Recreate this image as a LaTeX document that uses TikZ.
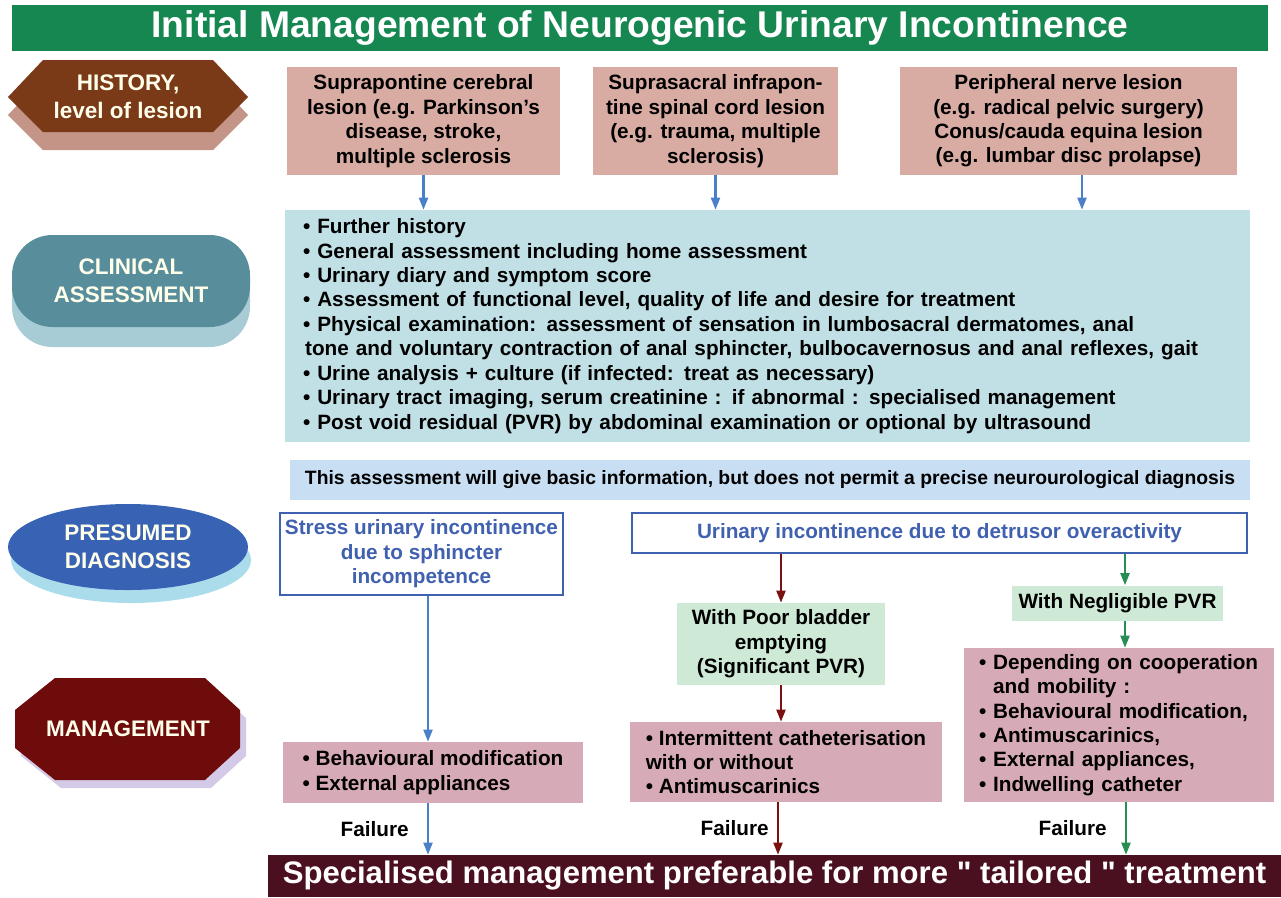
\documentclass[tikz,border=0pt]{standalone}
\usepackage{fontspec}
\setmainfont{Liberation Sans}
\usetikzlibrary{positioning,arrows.meta,shapes.geometric}

\definecolor{titlegreen}{RGB}{22,135,80}
\definecolor{lesionpink}{RGB}{217,172,163}
\definecolor{assessteal}{RGB}{193,224,230}
\definecolor{infoblue}{RGB}{200,222,242}
\definecolor{diagblue}{RGB}{64,96,176}
\definecolor{pvrgreen}{RGB}{206,234,214}
\definecolor{mgmtpink}{RGB}{214,170,182}
\definecolor{bottommaroon}{RGB}{75,16,32}
\definecolor{arrowblue}{RGB}{74,128,200}
\definecolor{arrowred}{RGB}{122,16,16}
\definecolor{arrowgreen}{RGB}{40,140,85}
\definecolor{histbrown}{RGB}{122,58,24}
\definecolor{histshadow}{RGB}{196,148,135}
\definecolor{clinteal}{RGB}{88,142,156}
\definecolor{clinshadow}{RGB}{168,204,214}
\definecolor{presblue}{RGB}{56,98,180}
\definecolor{presshadow}{RGB}{170,220,236}
\definecolor{mgmtred}{RGB}{110,12,12}
\definecolor{mgmtshadow}{RGB}{212,202,232}

\newcommand{\bul}{\textbullet\ }

\tikzset{
  box/.style={inner sep=0pt, font=\bfseries\fontsize{11.8}{13.9}\selectfont},
  lesion/.style={box, fill=lesionpink, align=center, minimum height=2.16cm},
  diag/.style={box, draw=diagblue, line width=1pt, fill=white, text=diagblue, align=center},
  pvr/.style={box, fill=pvrgreen, align=center},
  mgmt/.style={box, fill=mgmtpink, align=left},
  badge/.style={font=\bfseries\fontsize{12.8}{16}\selectfont, text=white!92!yellow, align=center},
  arr/.style={line width=1.2pt, -{Triangle[length=2.4mm,width=1.8mm]}},
  bluearr/.style={arr, arrowblue},
  redarr/.style={arr, arrowred},
  greenarr/.style={arr, arrowgreen},
  fail/.style={text=black, font=\bfseries\fontsize{11.8}{13}\selectfont, left=0.25cm}
}

\begin{document}
\begin{tikzpicture}[x=0.02cm, y=-0.02cm]
  \useasboundingbox (0,0) rectangle (1281,897);

  % Title
  \node[fill=titlegreen, text=white, minimum width=25.12cm, minimum height=0.8cm,
        font=\bfseries\fontsize{21.2}{22}\selectfont] (title) at (640,28)
        {Initial Management of Neurogenic Urinary Incontinence};

  % Left column badges
  \fill[histshadow] (8,115) -- (43,78) -- (213,78) -- (248,115) -- (213,150) -- (43,150) -- cycle;
  \fill[histbrown] (8,97) -- (43,60) -- (213,60) -- (248,97) -- (213,132) -- (43,132) -- cycle;
  \node[badge] (history) at (128,97) {HISTORY,\\level of lesion};

  \fill[clinshadow, rounded corners=23pt] (12,255) rectangle (250,347);
  \fill[clinteal, rounded corners=23pt] (12,235) rectangle (250,327);
  \node[badge] (clinical) at (131,281) {CLINICAL\\ASSESSMENT};

  \fill[presshadow] (131,560) ellipse [x radius=120, y radius=43];
  \fill[presblue] (128,547) ellipse [x radius=120, y radius=43];
  \node[badge] (presumed) at (128,547) {PRESUMED\\DIAGNOSIS};

  \fill[mgmtshadow] (61,686) -- (211,686) -- (246,718) -- (246,756) -- (211,788) -- (61,788) -- (21,756) -- (21,718) -- cycle;
  \fill[mgmtred] (55,678) -- (205,678) -- (240,710) -- (240,748) -- (205,780) -- (55,780) -- (15,748) -- (15,710) -- cycle;
  \node[badge] (management) at (128,729) {MANAGEMENT};

  % Level of lesion
  \node[lesion, minimum width=5.46cm] (les1) at (423.5,121)
    {Suprapontine cerebral\\lesion (e.g. Parkinson's\\disease, stroke,\\multiple sclerosis};
  \node[lesion, minimum width=4.9cm] (les2) at (715.5,121)
    {Suprasacral infrapon-\\tine spinal cord lesion\\(e.g. trauma, multiple\\sclerosis)};
  \node[lesion, minimum width=6.74cm] (les3) at (1068.5,121)
    {Peripheral nerve lesion\\(e.g. radical pelvic surgery)\\Conus/cauda equina lesion\\(e.g. lumbar disc prolapse)};

  % Clinical assessment
  \node[box, fill=assessteal, minimum width=19.3cm, minimum height=4.64cm,
        text width=18.58cm, inner xsep=0.36cm, align=left] (assess) at (767.5,326)
    {\bul Further history\\
     \bul General assessment including home assessment\\
     \bul Urinary diary and symptom score\\
     \bul Assessment of functional level, quality of life and desire for treatment\\
     \bul Physical examination: assessment of sensation in lumbosacral dermatomes, anal\\
     \hspace{0.1em}tone and voluntary contraction of anal sphincter, bulbocavernosus and anal reflexes, gait\\
     \bul Urine analysis + culture (if infected: treat as necessary)\\
     \bul Urinary tract imaging, serum creatinine : if abnormal : specialised management\\
     \bul Post void residual (PVR) by abdominal examination or optional by ultrasound};

  \node[box, fill=infoblue, minimum width=19.2cm, minimum height=0.8cm,
        font=\bfseries\fontsize{11}{13}\selectfont] (info) at (770,480)
    {This assessment will give basic information, but does not permit a precise neurourological diagnosis};

  % Presumed diagnosis
  \node[diag, minimum width=5.66cm, minimum height=1.64cm] (stress) at (421.5,554)
    {Stress urinary incontinence\\due to sphincter\\incompetence};
  \node[diag, minimum width=12.3cm, minimum height=0.8cm] (detr) at (939.5,533)
    {Urinary incontinence due to detrusor overactivity};

  \node[pvr, minimum width=4.16cm, minimum height=1.64cm] (poor) at (781,644)
    {With Poor bladder\\emptying\\(Significant PVR)};
  \node[pvr, minimum width=4.22cm, minimum height=0.7cm] (negl) at (1117.5,603)
    {With Negligible PVR};

  % Management
  \node[mgmt, minimum width=6cm, minimum height=1.22cm] (mgmt1) at (433,772.5)
    {\bul Behavioural modification\\\bul External appliances};
  \node[mgmt, minimum width=6.24cm, minimum height=1.6cm] (mgmt2) at (786,762)
    {\bul Intermittent catheterisation\\with or without\\\bul Antimuscarinics};
  \node[mgmt, minimum width=6.16cm, minimum height=3.08cm, text width=5.6cm, inner xsep=0.3cm] (mgmt3) at (1119,725)
    {\bul Depending on cooperation\\\phantom{\bul}and mobility :\\\bul Behavioural modification,\\\bul Antimuscarinics,\\\bul External appliances,\\\bul Indwelling catheter};

  \node[fill=bottommaroon, text=white, minimum width=20.26cm, minimum height=0.84cm,
        font=\bfseries\fontsize{17.7}{20}\selectfont] (special) at (774.5,876)
    {Specialised management preferable for more \textquotedbl\ tailored \textquotedbl\ treatment};

  % Arrows
  \draw[bluearr] (les1.south) -- (les1.south |- assess.north);
  \draw[bluearr] (les2.south) -- (les2.south |- assess.north);
  \draw[bluearr] ([xshift=0.27cm]les3.south) -- ([xshift=0.27cm]les3.south |- assess.north);

  \draw[bluearr] ([xshift=0.13cm]stress.south) -- ([xshift=0.13cm]stress.south |- mgmt1.north);
  \draw[redarr] (poor.north |- detr.south) -- (poor.north);
  \draw[redarr] (poor.south) -- (poor.south |- mgmt2.north);
  \draw[greenarr] ([xshift=0.15cm]negl.north |- detr.south) -- ([xshift=0.15cm]negl.north);
  \draw[greenarr] ([xshift=0.15cm]negl.south) -- ([xshift=0.15cm]negl.south |- mgmt3.north);

  % Failure
  \draw[bluearr] ([xshift=-0.1cm]mgmt1.south) -- ([xshift=-0.1cm]mgmt1.south |- special.north)
    node[fail, midway] {Failure};
  \draw[redarr] ([xshift=-0.16cm]mgmt2.south) -- ([xshift=-0.16cm]mgmt2.south |- special.north)
    node[fail, midway, left=0.05cm] {Failure};
  \draw[greenarr] ([xshift=0.14cm]mgmt3.south) -- ([xshift=0.14cm]mgmt3.south |- special.north)
    node[fail, midway] {Failure};
\end{tikzpicture}
\end{document}
